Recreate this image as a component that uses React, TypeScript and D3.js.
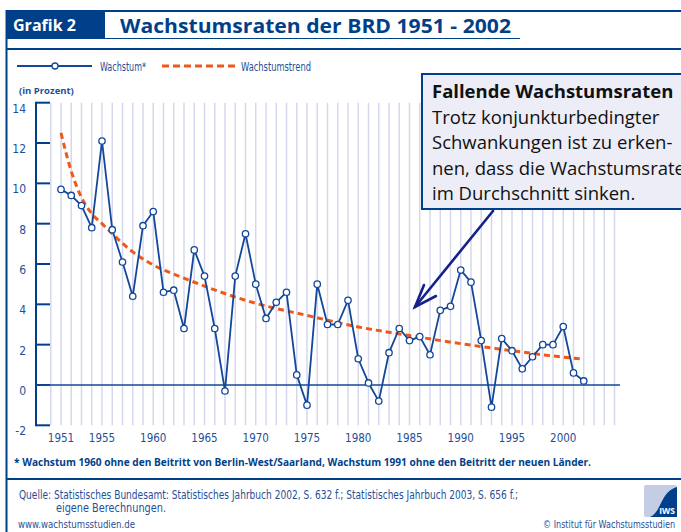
import * as d3 from "d3";
import React from "react";

// Wachstum (BIP, in %) 1951 - 2002
const years: number[] = d3.range(1951, 2003);
const growth: number[] = [
  9.7, 9.4, 8.9, 7.8, 12.1, 7.7, 6.1, 4.4, 7.9, 8.6,
  4.6, 4.7, 2.8, 6.7, 5.4, 2.8, -0.3, 5.4, 7.5, 5.0,
  3.3, 4.1, 4.6, 0.5, -1.0, 5.0, 3.0, 3.0, 4.2, 1.3,
  0.1, -0.8, 1.6, 2.8, 2.2, 2.4, 1.5, 3.7, 3.9, 5.7,
  5.1, 2.2, -1.1, 2.3, 1.7, 0.8, 1.4, 2.0, 2.0, 2.9,
  0.6, 0.2,
];

// Wachstumstrend, a few points
const trendYears: number[] = [1951, 1952, 1953, 1954, 1955, 1956, 1958, 1960, 1963, 1965, 1970, 1975, 1980, 1985, 1990, 1995, 2000, 2002];
const trendValues: number[] = [12.5, 10.6, 9.3, 8.5, 8.0, 7.5, 6.6, 5.95, 5.3, 4.9, 4.05, 3.45, 2.88, 2.45, 2.05, 1.7, 1.38, 1.28];

const xTickLabels: number[] = [1951, 1955, 1960, 1965, 1970, 1975, 1980, 1985, 1990, 1995, 2000];
const yTicks: number[] = [-2, 0, 2, 4, 6, 8, 10, 12, 14];
const gridYears: number[] = d3.range(1950, 2006);

const boxLines: string[] = [
  "Trotz konjunkturbedingter",
  "Schwankungen ist zu erken-",
  "nen, dass die Wachstumsraten",
  "im Durchschnitt sinken.",
];

const BLUE = "#003f8a";
const LINE_BLUE = "#12479a";
const TEXT_BLUE = "#1f4f98";
const ORANGE = "#f0581a";
const GRID = "#d5d8ec";
const NARROW = "'Liberation Sans Narrow', 'DejaVu Sans Condensed', sans-serif";
const SANS = "'Open Sans', 'Noto Sans', sans-serif";

const App: React.FC = () => {
  const width = 681;
  const height = 532;

  const x = d3.scaleLinear().domain([1951, 2002]).range([61, 583.75]);
  const y = d3.scaleLinear().domain([-2, 14]).range([425.3, 102.7]);

  const line = d3
    .line<number>()
    .x((_, i) => x(years[i]))
    .y((d) => y(d));

  const trend = d3
    .line<number>()
    .x((_, i) => x(trendYears[i]))
    .y((d) => y(d))
    .curve(d3.curveMonotoneX);

  return (
    <svg
      width={width}
      height={height}
      style={{ position: "absolute", left: 0, top: 0, background: "#fff" }}
    >
      {/* frame and header */}
      <rect x={6} y={11} width={99} height={27} fill={BLUE} />
      <text x={13} y={31} fill="#fff" fontFamily={SANS} fontWeight={700} fontSize={16} textLength={63} lengthAdjust="spacingAndGlyphs">
        Grafik 2
      </text>
      <text x={120} y={33} fill={BLUE} fontFamily={SANS} fontWeight={700} fontSize={20} textLength={391} lengthAdjust="spacingAndGlyphs">
        Wachstumsraten der BRD 1951 - 2002
      </text>
      <line x1={6} x2={width} y1={11} y2={11} stroke={BLUE} strokeWidth={2} />
      <line x1={6} x2={520} y1={38.5} y2={38.5} stroke={BLUE} strokeWidth={1} />
      <line x1={6} x2={width} y1={49} y2={49} stroke={BLUE} strokeWidth={2} />
      <line x1={6.5} x2={6.5} y1={10} y2={height} stroke={BLUE} strokeWidth={2} />
      <line x1={6} x2={width} y1={479} y2={479} stroke={BLUE} strokeWidth={2} />

      {/* legend */}
      <line x1={17} x2={92} y1={66} y2={66} stroke={LINE_BLUE} strokeWidth={2} />
      <circle cx={55} cy={66} r={3} fill="#fff" stroke={LINE_BLUE} strokeWidth={1.3} />
      <text x={100} y={70.5} fill={TEXT_BLUE} fontFamily={NARROW} fontSize={12.5} textLength={46} lengthAdjust="spacingAndGlyphs">
        Wachstum*
      </text>
      <line x1={162} x2={236} y1={66} y2={66} stroke={ORANGE} strokeWidth={3} strokeDasharray="7,4" />
      <text x={241} y={70.5} fill={TEXT_BLUE} fontFamily={NARROW} fontSize={12.5} textLength={70} lengthAdjust="spacingAndGlyphs">
        Wachstumstrend
      </text>

      <text x={19} y={94} fill={TEXT_BLUE} fontFamily={SANS} fontWeight={700} fontSize={9.5}>
        (in Prozent)
      </text>

      {/* grid */}
      {gridYears.map((yr) => (
        <line key={yr} x1={x(yr)} x2={x(yr)} y1={y(14)} y2={y(-2)} stroke={GRID} strokeWidth={1.5} />
      ))}

      {/* y axis */}
      <line x1={36} x2={36} y1={y(14) - 1} y2={y(-2) + 1} stroke={BLUE} strokeWidth={2} />
      {yTicks.map((t) => (
        <g key={t}>
          <line x1={36} x2={50} y1={y(t)} y2={y(t)} stroke={BLUE} strokeWidth={2} />
          <text x={26} y={y(t) + 10} textAnchor="end" fill={TEXT_BLUE} fontFamily={NARROW} fontSize={12}>
            {t}
          </text>
        </g>
      ))}
      <line x1={36} x2={620} y1={y(0)} y2={y(0)} stroke={LINE_BLUE} strokeWidth={1.6} />

      {/* x labels */}
      {xTickLabels.map((yr) => (
        <text key={yr} x={x(yr)} y={442} textAnchor="middle" fill={TEXT_BLUE} fontFamily={NARROW} fontSize={11.5}>
          {yr}
        </text>
      ))}

      {/* trend */}
      <path d={trend(trendValues) ?? ""} fill="none" stroke={ORANGE} strokeWidth={3} strokeDasharray="6,4" />

      {/* growth */}
      <path d={line(growth) ?? ""} fill="none" stroke={LINE_BLUE} strokeWidth={1.8} strokeLinejoin="round" />
      {growth.map((v, i) => (
        <circle key={years[i]} cx={x(years[i])} cy={y(v)} r={3.2} fill="#fff" stroke={LINE_BLUE} strokeWidth={1.3} />
      ))}

      {/* annotation */}
      <rect x={422} y={74} width={280} height={135} fill="#ecedf7" stroke={BLUE} strokeWidth={2} />
      <text x={432} y={98} fill="#111" fontFamily={SANS} fontWeight={700} fontSize={18.5}>
        Fallende Wachstumsraten
      </text>
      {boxLines.map((s, i) => (
        <text key={s} x={432} y={124 + i * 25.3} fill="#111" fontFamily={SANS} fontSize={18.5}>
          {s}
        </text>
      ))}
      <g stroke="#15218a" strokeWidth={2.6} fill="none" strokeLinecap="round">
        <line x1={493} y1={211} x2={415} y2={307} />
        <polyline points="424,285 415,307 436,296" strokeLinejoin="miter" />
      </g>

      {/* footnote and source */}
      <text x={14} y={466} fill={BLUE} fontFamily={SANS} fontWeight={700} fontSize={10} textLength={577} lengthAdjust="spacingAndGlyphs">
        * Wachstum 1960 ohne den Beitritt von Berlin-West/Saarland, Wachstum 1991 ohne den Beitritt der neuen Länder.
      </text>
      <text x={19} y={499} fill={TEXT_BLUE} fontFamily={NARROW} fontSize={11.5} textLength={499} lengthAdjust="spacingAndGlyphs">
        Quelle: Statistisches Bundesamt: Statistisches Jahrbuch 2002, S. 632 f.; Statistisches Jahrbuch 2003, S. 656 f.;
      </text>
      <text x={56} y={512} fill={TEXT_BLUE} fontFamily={NARROW} fontSize={11.5} textLength={110} lengthAdjust="spacingAndGlyphs">
        eigene Berechnungen.
      </text>
      <text x={18} y={527.5} fill={TEXT_BLUE} fontFamily={NARROW} fontSize={10.5} textLength={117} lengthAdjust="spacingAndGlyphs">
        www.wachstumsstudien.de
      </text>
      <text x={543} y={527.5} fill={TEXT_BLUE} fontFamily={NARROW} fontSize={10.5} textLength={132} lengthAdjust="spacingAndGlyphs">
        © Institut für Wachstumsstudien
      </text>

      {/* logo */}
      <rect x={644} y={485} width={33} height={32} rx={2} fill="#c5cde5" />
      <path d="M650,517 C662,512 660,492 677,487 L677,517 Z" fill={BLUE} />
      <text x={675} y={514} textAnchor="end" fill="#fff" fontFamily={SANS} fontWeight={700} fontSize={8.5}>
        IWS
      </text>
    </svg>
  );
};

export default App;
